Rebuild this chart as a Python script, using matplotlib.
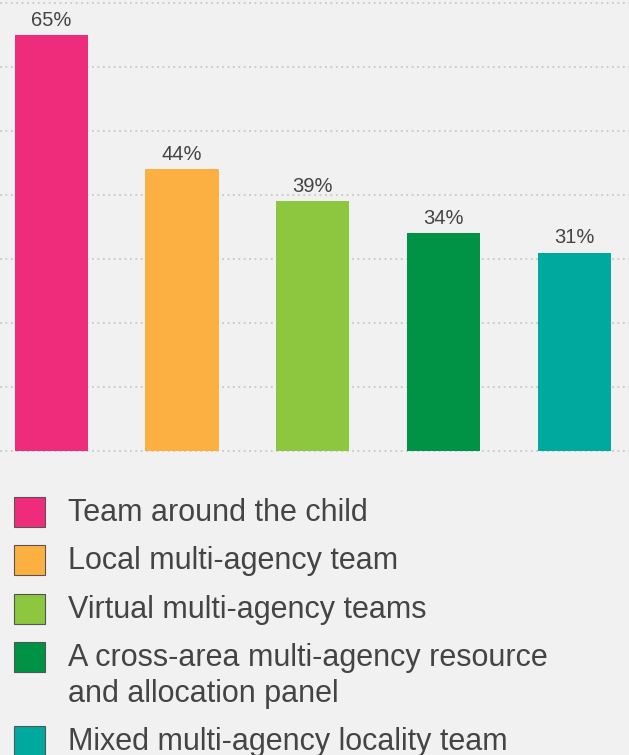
import matplotlib
matplotlib.use("Agg")
import matplotlib.pyplot as plt
from matplotlib.patches import Rectangle

categories = [
    "Team around the child",
    "Local multi-agency team",
    "Virtual multi-agency teams",
    "A cross-area multi-agency resource\nand allocation panel",
    "Mixed multi-agency locality team",
]
values = [65, 44, 39, 34, 31]
colors = ["#EF2C7C", "#FDB042", "#8DC63F", "#009245", "#00A99D"]
grid_ticks = [0, 10, 20, 30, 40, 50, 60, 70]

BG = "#F1F1F1"
TXT = "#444444"
W, H = 629, 755
plt.rcParams["font.family"] = ["Liberation Sans", "DejaVu Sans"]

fig = plt.figure(figsize=(W / 100, H / 100), dpi=100, facecolor=BG)

# plot area in pixel terms (top-down)
top_px, base_px = 3, 451
ax = fig.add_axes([0, (H - base_px) / H, 1, (base_px - top_px) / H])
ax.set_facecolor(BG)

x = list(range(len(values)))
ax.bar(x, values, width=0.56, color=colors, zorder=3)
for xi, v in zip(x, values):
    ax.text(xi, v + 0.8, f"{v}%", ha="center", va="bottom",
            fontsize=14.5, color=TXT, zorder=4)

ax.set_xlim(-0.392, 4.417)
ax.set_ylim(0, 70)
for t in grid_ticks:
    ax.axhline(t, color="#C8C8C8", lw=1.3, ls=(0, (1, 2)), zorder=1,
               clip_on=False)
for s in ax.spines.values():
    s.set_visible(False)
ax.set_xticks([])
ax.set_yticks([])

# legend drawn in figure pixel coordinates
sq = 30
item_tops = [497, 545, 594, 642, 726]
line_gap = 36
for top, col, lab in zip(item_tops, colors, categories):
    fig.patches.append(Rectangle((14 / W, (H - top - sq) / H), 31 / W, sq / H,
                                 transform=fig.transFigure, facecolor=col,
                                 edgecolor="#555555", lw=0.8))
    baseline = top + 24
    for k, line in enumerate(lab.split("\n")):
        fig.text(68 / W, (H - baseline - k * line_gap) / H, line,
                 ha="left", va="baseline", fontsize=22, color=TXT)

fig.savefig("out.png", dpi=100, facecolor=BG)
